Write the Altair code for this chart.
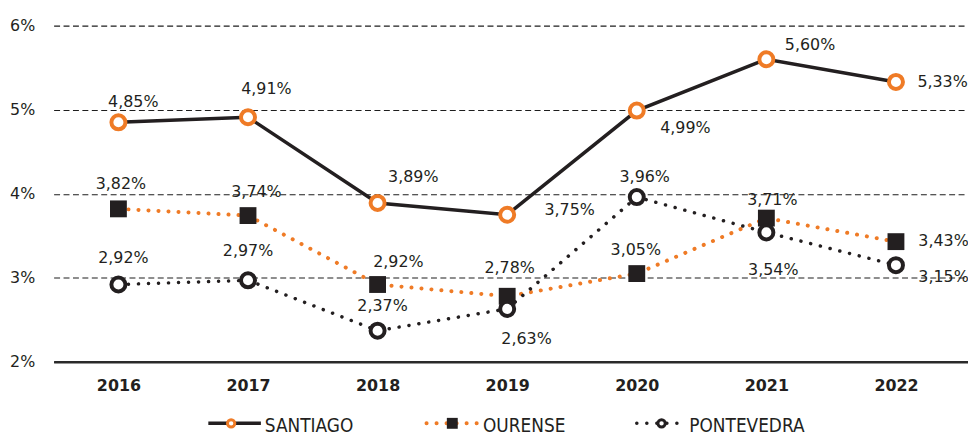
import altair as alt
import pandas as pd

# ---- data ----
years = [2016, 2017, 2018, 2019, 2020, 2021, 2022]
series_names = ["SANTIAGO", "OURENSE", "PONTEVEDRA"]
santiago = [4.85, 4.91, 3.89, 3.75, 4.99, 5.60, 5.33]
ourense = [3.82, 3.74, 2.92, 2.78, 3.05, 3.71, 3.43]
pontevedra = [2.92, 2.97, 2.37, 2.63, 3.96, 3.54, 3.15]
y_ticks = [2, 3, 4, 5, 6]

# ---- label layout offsets (pixels) ----
santiago_dx = [15, 18.5, 36, 63, 49, 44, 47]
santiago_dy = [-20.5, -28.5, -26, -5, 18, -14.5, 0]
ourense_dx = [2.5, 8.5, 21, 2.5, -1, 6, 48]
ourense_dy = [-25, -24, -23, -28.5, -24, -18, -1]
pontevedra_dx = [5, 0, 5, 19.5, 8, 7, 48]
pontevedra_dy = [-27, -30, -25, 30, -20.5, 37.5, 12]

W, H = 922, 339
STEP = 130.67
PX_PER_UNIT = H / 4.0
X0 = 2015.5
X1 = X0 + W / STEP

ORANGE = "#EF7B26"
INK = "#231F20"

rows = []
for name, vals, dxs, dys in [
    ("SANTIAGO", santiago, santiago_dx, santiago_dy),
    ("OURENSE", ourense, ourense_dx, ourense_dy),
    ("PONTEVEDRA", pontevedra, pontevedra_dx, pontevedra_dy),
]:
    for yr, v, dx, dy in zip(years, vals, dxs, dys):
        rows.append({
            "series": name,
            "year": yr,
            "value": v,
            "label": f"{v:.2f}".replace(".", ",") + "%",
            "lx": yr + dx / STEP,
            "ly": v - dy / PX_PER_UNIT,
        })
df = pd.DataFrame(rows)

xscale = alt.Scale(domain=[X0, X1], nice=False, zero=False)
yscale = alt.Scale(domain=[2, 6], nice=False, zero=False)
xaxis = alt.Axis(values=years, format="d", title=None, ticks=False, grid=False,
                 labelFontSize=16, labelFontWeight="bold", labelPadding=16,
                 labelColor=INK, labelFont="DejaVu Sans",
                 domainColor="#2a2a2a", domainWidth=2.5)
yaxis = alt.Axis(values=y_ticks, labelExpr="datum.value + '%'", title=None,
                 ticks=False, domain=False, grid=True, gridDash=[6, 3.5],
                 gridColor="#1e1e1e", gridOpacity=1, gridWidth=1.1, labelFontSize=16,
                 labelPadding=19, labelColor=INK, labelFont="DejaVu Sans")

X = alt.X("year:Q", scale=xscale, axis=xaxis)
Y = alt.Y("value:Q", scale=yscale, axis=yaxis)
LX = alt.X("lx:Q", scale=xscale, axis=xaxis)
LY = alt.Y("ly:Q", scale=yscale, axis=yaxis)

base = alt.Chart(df)


def sel(name):
    return base.transform_filter(alt.datum.series == name)


our_line = sel("OURENSE").mark_line(color=ORANGE, strokeWidth=4, strokeDash=[0.1, 10],
                                    strokeCap="round").encode(x=X, y=Y)
our_pts = sel("OURENSE").mark_point(shape="square", filled=True, color=INK, size=289,
                                    opacity=1).encode(x=X, y=Y)
pon_line = sel("PONTEVEDRA").mark_line(color=INK, strokeWidth=3.5, strokeDash=[0.1, 10],
                                       strokeCap="round").encode(x=X, y=Y)
pon_pts = sel("PONTEVEDRA").mark_point(shape="circle", fill="white", fillOpacity=1,
                                       stroke=INK, strokeWidth=4, size=200,
                                       opacity=1).encode(x=X, y=Y)
san_line = sel("SANTIAGO").mark_line(color=INK, strokeWidth=3.5).encode(x=X, y=Y)
san_pts = sel("SANTIAGO").mark_point(shape="circle", fill="white", fillOpacity=1,
                                     stroke=ORANGE, strokeWidth=4, size=200,
                                     opacity=1).encode(x=X, y=Y)

labels = base.mark_text(font="DejaVu Sans", fontSize=16, color=INK, align="center",
                        baseline="middle").encode(x=LX, y=LY, text="label:N")

# ---- legend ----
one = alt.Data(values=[{}])
LEG_Y = 401
TXT_Y = 404
leg = [
    alt.Chart(one).mark_rule(color=INK, strokeWidth=3.5).encode(
        x=alt.value(156), x2=alt.value(209), y=alt.value(LEG_Y)),
    alt.Chart(one).mark_point(shape="circle", fill="white", fillOpacity=1, stroke=ORANGE,
                              strokeWidth=3, size=55, opacity=1).encode(
        x=alt.value(179), y=alt.value(LEG_Y)),
    alt.Chart(one).mark_text(text=series_names[0], align="left", baseline="middle",
                             font="DejaVu Sans Condensed", fontSize=19, color=INK).encode(
        x=alt.value(213), y=alt.value(TXT_Y)),

    alt.Chart(one).mark_rule(color=ORANGE, strokeWidth=4, strokeDash=[0.1, 10],
                             strokeCap="round").encode(
        x=alt.value(376), x2=alt.value(429), y=alt.value(LEG_Y)),
    alt.Chart(one).mark_point(shape="square", filled=True, color=INK, size=121,
                              opacity=1).encode(x=alt.value(402), y=alt.value(LEG_Y)),
    alt.Chart(one).mark_text(text=series_names[1], align="left", baseline="middle",
                             font="DejaVu Sans Condensed", fontSize=19, color=INK).encode(
        x=alt.value(433), y=alt.value(TXT_Y)),

    alt.Chart(one).mark_rule(color=INK, strokeWidth=3.5, strokeDash=[0.1, 10],
                             strokeCap="round").encode(
        x=alt.value(588), x2=alt.value(637), y=alt.value(LEG_Y)),
    alt.Chart(one).mark_point(shape="circle", fill="white", fillOpacity=1, stroke=INK,
                              strokeWidth=3, size=55, opacity=1).encode(
        x=alt.value(613), y=alt.value(LEG_Y)),
    alt.Chart(one).mark_text(text=series_names[2], align="left", baseline="middle",
                             font="DejaVu Sans Condensed", fontSize=19, color=INK).encode(
        x=alt.value(641), y=alt.value(TXT_Y)),
]

chart = alt.layer(
    our_line, our_pts, pon_line, pon_pts, san_line, san_pts, labels, *leg
).properties(
    width=W, height=H,
    padding={"left": 46, "top": 16, "right": 0, "bottom": 73},
    autosize=alt.AutoSizeParams(type="none"),
    background="white",
).configure_view(stroke=None)

chart.save("out.html", embed_options={"renderer": "svg", "actions": False})
